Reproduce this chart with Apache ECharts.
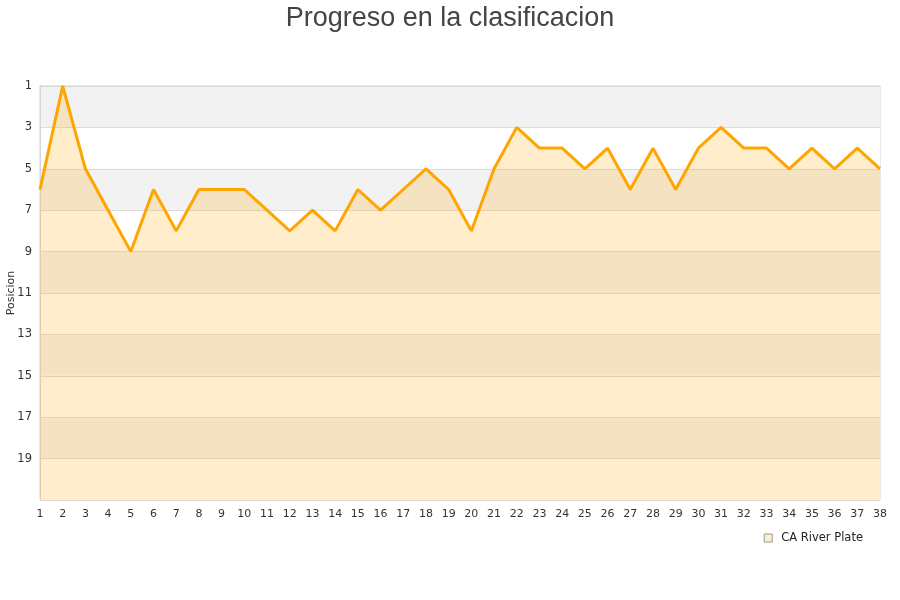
<!DOCTYPE html>
<html><head><meta charset="utf-8">
<script src="https://cdn.jsdelivr.net/npm/echarts@6/dist/echarts.min.js"></script>
<style>html,body{margin:0;padding:0;background:#fff}#c{width:900px;height:600px}</style>
</head><body><div id="c"></div>
<script>
const rounds = ['1','2','3','4','5','6','7','8','9','10','11','12','13','14','15','16','17','18','19','20','21','22','23','24','25','26','27','28','29','30','31','32','33','34','35','36','37','38'];
const positions = [6,1,5,7,9,6,8,6,6,6,7,8,7,8,6,7,6,5,6,8,5,3,4,4,5,4,6,4,6,4,3,4,4,5,4,5,4,5];
const teamName = 'CA River Plate';
const titleText = 'Progreso en la clasificacion';
const yName = 'Posicion';

const chart = echarts.init(document.getElementById('c'), null, {renderer: 'canvas'});
chart.setOption({
  animation: false,
  title: {text: titleText, left: 'center', top: 0,
    textStyle: {fontFamily: 'Liberation Sans, Arial', fontSize: 27, fontWeight: 'normal', color: '#444'}},
  legend: {data: [teamName], right: 32, top: 527, itemWidth: 8, itemHeight: 8, itemGap: 10,
    icon: 'rect', itemGap: 10,
    textStyle: {fontFamily: 'DejaVu Sans', fontSize: 11.5, color: '#222', padding: [0, 0, 0, 4]},
    itemStyle: {color: '#FFEDCC', borderColor: '#999', borderWidth: 1}},
  grid: {left: 40, right: 20, top: 86, bottom: 100, outerBoundsMode: 'none', containLabel: false,
    show: true, borderColor: '#d6d6d6', borderWidth: 1, backgroundColor: 'transparent'},
  xAxis: {type: 'category', data: rounds, boundaryGap: false,
    axisLine: {show: true, lineStyle: {color: '#d6d6d6'}}, axisTick: {show: false},
    axisLabel: {interval: 0, margin: 9, fontFamily: 'DejaVu Sans', fontSize: 11, color: '#333'},
    splitLine: {show: false}},
  yAxis: {type: 'value', inverse: true, min: 0, max: 20, interval: 2,
    name: yName, nameLocation: 'middle', nameGap: 23, nameMoveOverlap: false,
    nameTextStyle: {fontFamily: 'DejaVu Sans', fontSize: 11, color: '#333'},
    axisLine: {show: true, lineStyle: {color: '#d6d6d6'}}, axisTick: {show: false},
    axisLabel: {margin: 8, fontFamily: 'DejaVu Sans', fontSize: 11.5, color: '#333',
      formatter: v => (v >= 20 ? '' : String(v + 1))},
    splitLine: {show: true, lineStyle: {color: '#dcdcdc', width: 1}},
    splitArea: {show: true, areaStyle: {color: ['#f2f2f2', '#ffffff']}}},
  series: [{
    name: teamName, type: 'line', data: positions.map(p => p - 1),
    showSymbol: false, symbol: 'none',
    lineStyle: {color: '#FFA500', width: 3},
    itemStyle: {color: '#FFA500'},
    areaStyle: {color: '#FFA500', opacity: 0.2, origin: 'end'}
  }]
});
</script></body></html>
